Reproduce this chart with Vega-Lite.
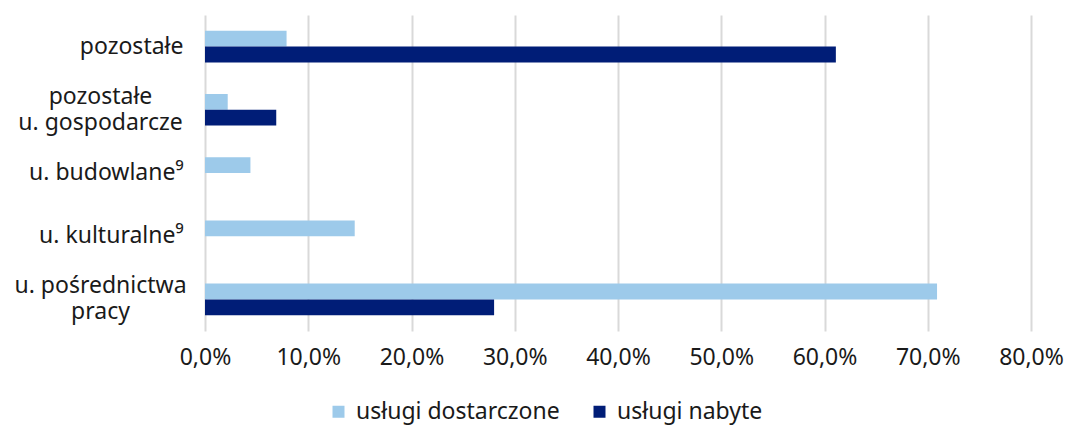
{
  "$schema": "https://vega.github.io/schema/vega-lite/v6.json",
  "width": 826,
  "height": 316,
  "autosize": "none",
  "padding": {"left": 205, "top": 15, "right": 34, "bottom": 96},
  "background": "white",
  "config": {
    "font": "Noto Sans",
    "view": {"stroke": null}
  },
  "data": {
    "values": [
      {"kat": "pozostałe", "seria": "usługi dostarczone", "ord": 1, "wartosc": 7.9},
      {"kat": "pozostałe", "seria": "usługi nabyte", "ord": 2, "wartosc": 61.1},
      {"kat": "pozostałe|u. gospodarcze", "seria": "usługi dostarczone", "ord": 1, "wartosc": 2.2},
      {"kat": "pozostałe|u. gospodarcze", "seria": "usługi nabyte", "ord": 2, "wartosc": 6.9},
      {"kat": "u. budowlane⁹", "seria": "usługi dostarczone", "ord": 1, "wartosc": 4.4},
      {"kat": "u. budowlane⁹", "seria": "usługi nabyte", "ord": 2, "wartosc": 0},
      {"kat": "u. kulturalne⁹", "seria": "usługi dostarczone", "ord": 1, "wartosc": 14.5},
      {"kat": "u. kulturalne⁹", "seria": "usługi nabyte", "ord": 2, "wartosc": 0},
      {"kat": "u. pośrednictwa|pracy", "seria": "usługi dostarczone", "ord": 1, "wartosc": 70.9},
      {"kat": "u. pośrednictwa|pracy", "seria": "usługi nabyte", "ord": 2, "wartosc": 28.0}
    ]
  },
  "mark": {"type": "bar"},
  "encoding": {
    "y": {
      "field": "kat",
      "type": "nominal",
      "sort": ["pozostałe", "pozostałe|u. gospodarcze", "u. budowlane⁹", "u. kulturalne⁹", "u. pośrednictwa|pracy"],
      "scale": {"paddingInner": 0.5, "paddingOuter": 0.25},
      "axis": {
        "title": null,
        "domain": false,
        "ticks": false,
        "labelPadding": {"condition": {"test": "indexof(datum.value, '|') >= 0", "value": 105}, "value": 22},
        "labelFontSize": 23,
        "labelColor": "#1a1a1a",
        "labelLineHeight": 26,
        "labelExpr": "split(datum.label, '|')",
        "labelAlign": {"condition": {"test": "indexof(datum.value, '|') >= 0", "value": "center"}, "value": "right"},
        "labelLimit": 300,
        "labelOffset": {"condition": {"test": "indexof(datum.value, '|') >= 0", "value": -13}, "value": 0}
      }
    },
    "yOffset": {
      "field": "ord",
      "type": "ordinal",
      "sort": "ascending",
      "scale": {"paddingInner": 0, "paddingOuter": 0}
    },
    "x": {
      "field": "wartosc",
      "type": "quantitative",
      "scale": {"domain": [0, 80], "nice": false},
      "axis": {
        "title": null,
        "values": [0, 10, 20, 30, 40, 50, 60, 70, 80],
        "domain": false,
        "ticks": false,
        "grid": true,
        "gridColor": "#d9d9d9",
        "gridWidth": 2,
        "labelFlush": false,
        "labelOverlap": false,
        "labelPadding": 15,
        "labelFontSize": 23,
        "labelColor": "#1a1a1a",
        "labelExpr": "replace(format(datum.value, '.1f'), '.', ',') + '%'"
      }
    },
    "color": {
      "field": "seria",
      "type": "nominal",
      "scale": {"domain": ["usługi dostarczone", "usługi nabyte"], "range": ["#9dcaea", "#001d77"]},
      "legend": {
        "title": null,
        "orient": "none",
        "direction": "horizontal",
        "legendX": 122,
        "legendY": 385,
        "symbolType": "square",
        "symbolSize": 144,
        "symbolStrokeWidth": 0,
        "labelFontSize": 23,
        "labelColor": "#1a1a1a",
        "labelOffset": 6,
        "labelLimit": 400,
        "columnPadding": 28
      }
    }
  }
}
